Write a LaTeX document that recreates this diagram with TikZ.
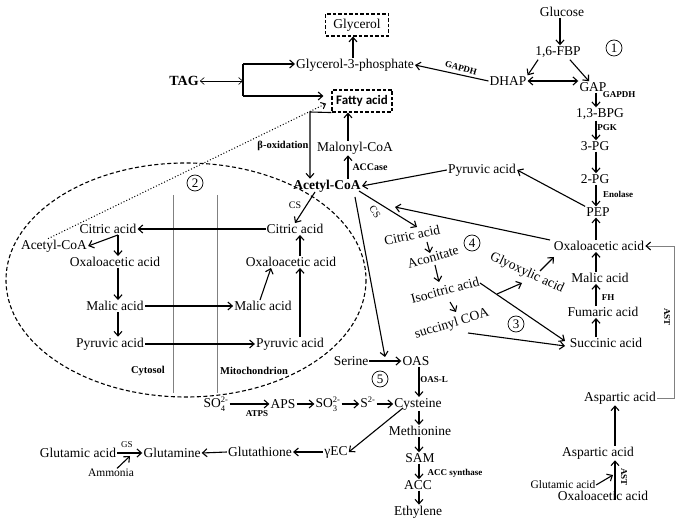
\documentclass[tikz,border=0pt]{standalone}
\usepackage{fontspec}
\setmainfont{Liberation Serif}
\newfontfamily\carl{Carlito}
\usetikzlibrary{arrows.meta,calc}
\newcommand\myion[2]{\ensuremath{_{\mbox{\fontsize{8.5}{8.5}\selectfont #1}}^{\mbox{\fontsize{8.5}{8.5}\selectfont #2}}}}
\begin{document}
\begin{tikzpicture}[x=1pt,y=-1pt,
  lab/.style={inner sep=1pt, font=\fontsize{13.5}{14}\selectfont},
  blab/.style={inner sep=1pt, font=\bfseries\fontsize{13.5}{14}\selectfont},
  sml/.style={inner sep=0.5pt, font=\fontsize{11.5}{12}\selectfont},
  enz/.style={inner sep=0.5pt, font=\bfseries\fontsize{9}{10}\selectfont},
  cmp/.style={inner sep=0.5pt, font=\bfseries\fontsize{10.5}{11}\selectfont},
  csl/.style={inner sep=0.5pt, font=\fontsize{10}{10}\selectfont},
  arr/.style={line width=1.1pt, -{Straight Barb[length=4.5pt,width=8pt]}},
  darr/.style={line width=1.1pt, {Straight Barb[length=4.5pt,width=8pt]}-{Straight Barb[length=4.5pt,width=8pt]}},
  num/.style={circle, draw, line width=0.7pt, inner sep=0pt, minimum size=16pt, font=\fontsize{13}{13}\selectfont},
  dbox/.style={draw, dash pattern=on 3.5pt off 2pt, line width=1.1pt, inner sep=2pt},
]
\useasboundingbox (0,0) rectangle (683,526);

% column coordinates
\coordinate (cG) at (560,0);
\coordinate (cA) at (596,0);
\coordinate (cB) at (615,0);
\coordinate (cM) at (348,0);
\coordinate (cL) at (118,0);
\coordinate (cR) at (300,0);
\coordinate (cC) at (419,0);
\coordinate (cY) at (353,0);
\coordinate (astx) at (674,0);

% ---------- top left ----------
\node[dbox, lab, minimum width=63pt, minimum height=22pt] (glycerol) at (357,25) {Glycerol};
\node[lab] (g3p) at (355,65) {Glycerol-3-phosphate};
\node[inner sep=1pt, font=\bfseries\fontsize{14}{14}\selectfont] (tag) at (184,81) {TAG};
\node[dbox, font=\carl\bfseries\fontsize{13}{13}\selectfont, minimum width=60pt, minimum height=22pt] (fatty) at (362,101) {Fatty acid};
\node[lab] (malonyl) at (355,148) {Malonyl-CoA};
\node[blab] (acoa) at (327,186) {Acetyl-CoA};
\node[cmp] at (283,146) {β-oxidation};
\node[enz, font=\bfseries\fontsize{10}{10}\selectfont] at (370,167) {ACCase};

\coordinate (tj) at (243,81);
\coordinate (tjt) at (243,64);
\coordinate (tjb) at (243,96);
\coordinate (bo) at (310,112);
\draw[line width=0.6pt, {Straight Barb[length=4pt,width=7pt]}-{Straight Barb[length=4pt,width=7pt]}] (tag.east) -- (tj);
\draw[line width=1.1pt] (tjt) -- (tjb);
\draw[arr] (tjt) -- (tjt -| g3p.west);
\draw[arr, shorten >=8pt] (tjb) -- (tjb -| fatty.west);
\draw[arr] (g3p.north -| cY) -- (glycerol.south -| cY);
\draw[arr] (fatty.south west) -- (bo) -- (bo |- acoa.north);
\draw[arr] (malonyl.north -| cM) -- (fatty.south -| cM);
\draw[arr] (acoa.north -| cM) -- (malonyl.south -| cM);

% ---------- glycolysis ----------
\node[lab] (glucose) at (562,12) {Glucose};
\node[lab] (fbp) at (558,52) {1,6-FBP};
\node[num] (n1) at (614,48) {1};
\node[lab] (dhap) at (508,81) {DHAP};
\node[lab] (gap) at (593,87) {GAP};
\node[lab] (bpg) at (600,114) {1,3-BPG};
\node[lab] (pg3) at (595,146) {3-PG};
\node[lab] (pg2) at (595,179) {2-PG};
\node[lab] (pep) at (598,212) {PEP};
\node[lab] (pyr) at (482,170) {Pyruvic acid};
\node[lab] (oaa) at (599,246) {Oxaloacetic acid};
\node[lab] (mal) at (600,278) {Malic acid};
\node[lab] (fum) at (603,312) {Fumaric acid};
\node[lab] (suc) at (606,343) {Succinic acid};
\node[lab] (asp1) at (620,398) {Aspartic acid};
\node[lab] (asp2) at (598,453) {Aspartic acid};
\node[lab] (oaa2) at (603,496) {Oxaloacetic acid};
\node[sml] (glu2) at (563,485) {Glutamic acid};

\node[enz, rotate=-15] at (461,68) {GAPDH};
\node[enz] at (619,95) {GAPDH};
\node[enz] at (607,128) {PGK};
\node[enz] at (618,194) {Enolase};
\node[enz] at (608,298) {FH};
\node[enz, rotate=-90] at (667,317) {AST};
\node[enz, rotate=-90] at (624,477) {AST};

\draw[arr] (glucose.south -| cG) -- (fbp.north -| cG);
\draw[arr] ($(fbp.south west)+(4,1)$) -- (dhap.north east);
\draw[arr] ($(fbp.south east)+(-12,1)$) -- ($(gap.north)+(-4,0)$);
\draw[darr] (dhap.east) -- (gap.west |- dhap.east);
\draw[arr] (dhap.west) -- (g3p.east);
\draw[arr] (gap.south -| cA) -- (bpg.north -| cA);
\draw[arr] (bpg.south -| cA) -- (pg3.north -| cA);
\draw[arr] (pg3.south -| cA) -- (pg2.north -| cA);
\draw[arr] (pg2.south -| cA) -- (pep.north -| cA);
\draw[arr] (pep.north west) -- (pyr.east);
\draw[arr] (pyr.west) -- (acoa.east);
\draw[arr] (oaa.north -| cA) -- (pep.south -| cA);
\draw[arr] (mal.north -| cA) -- (oaa.south -| cA);
\draw[arr] (fum.north -| cA) -- (mal.south -| cA);
\draw[arr] (suc.north -| cA) -- (fum.south -| cA);
\coordinate (oaatip) at (395,207);
\draw[arr] ($(oaa)+(-49,-6)$) -- (oaatip);
\draw[gray, line width=0.8pt, -{Straight Barb[length=4.5pt,width=8pt,color=black,line width=1.1pt]}] (asp1.east) -- (asp1.east -| astx) -- (oaa.east -| astx) -- (oaa.east);
\draw[arr] (asp2.north -| cB) -- (asp1.south -| cB);
\draw[arr] ($(oaa2.center -| cB)+(0,4)$) -- (asp2.south -| cB);
\coordinate (gluT) at (613,475);
\draw[arr] (glu2.east) -- (gluT);

% ---------- sulfur / cysteine ----------
\node[lab] (serine) at (351,361) {Serine};
\node[lab] (oas) at (416,361) {OAS};
\node[num] (n5) at (380,379) {5};
\node[enz] at (434,380) {OAS-L};
\node[lab] (cys) at (418,404) {Cysteine};
\node[lab] (so4) at (216,404) {SO\myion{4}{2-}};
\node[lab] (aps) at (283,404) {APS};
\node[lab] (so3) at (328,404) {SO\myion{3}{2-}};
\node[lab] (s2) at (368,404) {S\myion{}{2-}};
\node[enz] at (257,414) {ATPS};
\node[lab] (meth) at (420,431) {Methionine};
\node[lab] (sam) at (420,458) {SAM};
\node[enz] at (455,473) {ACC synthase};
\node[lab] (acc) at (418,485) {ACC};
\node[lab] (eth) at (418,512) {Ethylene};
\node[lab] (gec) at (336,452) {γEC};
\node[lab] (gsh) at (260,452) {Glutathione};
\node[lab] (gln) at (172,453) {Glutamine};
\node[lab] (glu) at (78,453) {Glutamic acid};
\node[sml] (amm) at (111,473) {Ammonia};
\node[csl, font=\fontsize{9}{9}\selectfont] at (127,445) {GS};

\draw[arr] (serine.east) -- (oas.west);
\draw[arr] (oas.south -| cC) -- (cys.north -| cC);
\draw[arr] (so4.east) -- (aps.west);
\draw[arr] (aps.east) -- (so3.west);
\draw[arr] (so3.east) -- (s2.west);
\draw[arr] (s2.east) -- (cys.west);
\draw[arr] (cys.south -| cC) -- (meth.north -| cC);
\draw[arr] (meth.south -| cC) -- (sam.north -| cC);
\draw[arr] (sam.south -| cC) -- (acc.north -| cC);
\draw[arr] (acc.south -| cC) -- (eth.north -| cC);
\draw[arr] ($(cys)+(-15,4)$) -- (gec.east);
\draw[arr] (gec.west) -- (gsh.east);
\draw[arr] (gsh.west) -- (gln.east);
\draw[arr] (glu.east) -- (gln.west);
\coordinate (ammT) at (130,456);
\draw[arr] ($(amm.north)+(6,0)$) -- (ammT);

% ---------- glyoxylate / TCA middle ----------
\node[csl, rotate=-55] at (375,212) {CS};
\node[lab, rotate=12] (cit) at (412,235) {Citric acid};
\node[num] (n4) at (472,243) {4};
\node[lab, rotate=16] (acon) at (433,257) {Aconitate};
\node[lab, rotate=15] (iso) at (445,290) {Isocitric acid};
\node[lab, rotate=-25] (glyox) at (527,273) {Glyoxylic acid};
\node[lab, rotate=17] (sucoa) at (452,324) {succinyl COA};
\node[num] (n3) at (516,324) {3};

\draw[arr] ($(acoa)+(32,5)$) -- ($(cit)+(5,-8)$);
\draw[arr] ($(cit)+(15,7)$) -- ($(acon)+(-3,-4)$);
\draw[arr] ($(acon)+(2,8)$) -- ($(iso)+(-6,-8)$);
\draw[arr] ($(iso)+(52,4)$) -- ($(glyox)+(-5,10)$);
\draw[arr] ($(glyox)+(13,-2)$) -- ($(oaa)+(-45,11)$);
\draw[arr] ($(iso)+(35,-7)$) -- ($(suc)+(-41,-2)$);
\draw[arr] ($(iso)+(5,12)$) -- ($(sucoa)+(4,-12)$);
\draw[arr] ($(sucoa)+(16,9)$) -- ($(suc)+(-41,3)$);
\draw[arr] ($(acoa)+(28,11)$) -- ($(oas)+(-31,-4)$);

% ---------- ellipse (mitochondrion shuttle) ----------
\draw[dash pattern=on 4pt off 2.5pt, line width=1.1pt] (186,280) ellipse [x radius=180, y radius=117];
\node[num] (n2) at (195,183) {2};
\draw[gray, line width=0.9pt] (173,195) -- (173,393);
\draw[gray, line width=0.9pt] (217,195) -- (217,393);
\node[cmp] at (148,371) {Cytosol};
\node[cmp] at (254,371) {Mitochondrion};

\node[lab] (citL) at (108,229) {Citric acid};
\node[lab] (citR) at (295,229) {Citric acid};
\node[lab] (acoaL) at (54,246) {Acetyl-CoA};
\node[lab] (oaaL) at (115,262) {Oxaloacetic acid};
\node[lab] (oaaR) at (291,262) {Oxaloacetic acid};
\node[lab] (malL) at (115,306) {Malic acid};
\node[lab] (malR) at (263,306) {Malic acid};
\node[lab] (pyrL) at (110,344) {Pyruvic acid};
\node[lab] (pyrR) at (290,344) {Pyruvic acid};
\node[csl] at (295,205) {CS};

\draw[arr] (citR.west) -- (citL.east);
\draw[arr] ($(acoa)+(-12,6)$) -- (citR.north);
\draw[arr] (citL.south -| cL) -- (acoaL.east);
\draw[arr] (citL.south -| cL) -- (oaaL.north -| cL);
\draw[arr] (oaaL.south -| cL) -- (malL.north -| cL);
\draw[arr] (malL.south -| cL) -- (pyrL.north -| cL);
\draw[arr] (malL.east) -- (malR.west);
\draw[arr] (pyrL.east) -- (pyrR.west);
\draw[arr] (pyrR.north -| cR) -- (oaaR.south -| cR);
\draw[arr] ($(malR.north)+(-3,0)$) -- ($(oaaR.south)+(-20,0)$);
\draw[arr] (oaaR.north -| cR) -- (citR.south -| cR);

\draw[dotted, line width=1pt, -{Straight Barb[length=4pt,width=7pt]}, shorten >=6pt] ($(acoaL.north)+(-6,0)$) -- (fatty.west);
\end{tikzpicture}
\end{document}
